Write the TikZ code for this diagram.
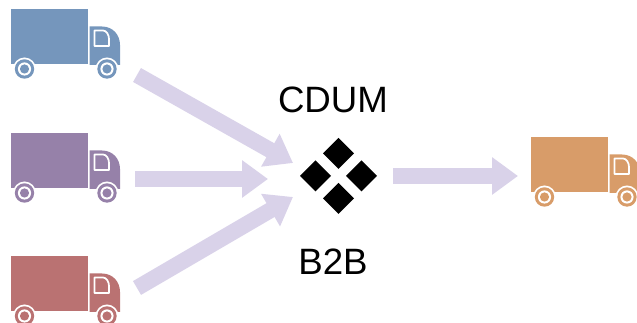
\documentclass[tikz,border=0pt]{standalone}
\usepackage{fontspec}
\setmainfont{Liberation Sans}
\usetikzlibrary{arrows.meta}
\definecolor{tblue}{HTML}{7596BC}
\definecolor{tpurple}{HTML}{9681A9}
\definecolor{tred}{HTML}{BA7272}
\definecolor{torange}{HTML}{D89C69}
\definecolor{flow}{HTML}{D9D2E9}
\tikzset{
  x=0.75pt,y=-0.75pt,
  flowarrow/.style={draw=flow,line width=12pt,-{Triangle[length=19.5pt,width=27pt]}},
  tile/.style={fill=black,draw=none},
  label/.style={font=\fontsize{27.5pt}{30pt}\selectfont,text=black,inner sep=0pt},
  pics/truck/.style={code={
    \fill[#1] (0,0) rectangle (77,55.5);
    \fill[#1] (78.7,17.5) -- (91,17.5) .. controls (102,17.5) and (109,26) .. (109,36) -- (109,56) -- (78.7,56) -- cycle;
    \draw[white,line width=1.3pt,line join=round] (83.5,21.5) -- (92,21.5) .. controls (95.5,21.5) and (98,26) .. (98,30) -- (98,37) -- (83.5,37) -- cycle;
    \foreach \cx in {13.5,96}{
      \fill[white] (\cx,60) circle[radius=11.5];
      \fill[#1] (\cx,60) circle[radius=9.7];
      \fill[white] (\cx,60) circle[radius=6.6];
      \fill[#1] (\cx,60) circle[radius=4.6];
    }
  }}
}
\begin{document}
\begin{tikzpicture}
\useasboundingbox (0,0) rectangle (637,323);
\clip (0,0) rectangle (637,323);
\pic at (11,9) {truck=tblue};
\pic at (11,133) {truck=tpurple};
\pic at (11,256) {truck=tred};
\pic at (531,137) {truck=torange};
\node[label] (cdum) at (333,100) {CDUM};
\node[label] (b2b) at (333,262) {B2B};
\fill[tile] (338.5,138) -- (354,153.5) -- (338.5,169) -- (323,153.5) -- cycle;
\fill[tile] (315.5,160.5) -- (331,176) -- (315.5,191.5) -- (300,176) -- cycle;
\fill[tile] (361.5,160.5) -- (377,176) -- (361.5,191.5) -- (346,176) -- cycle;
\fill[tile] (338.5,183) -- (354,198.5) -- (338.5,214) -- (323,198.5) -- cycle;
\coordinate (s1) at (137,75);
\coordinate (e1) at (293,163);
\coordinate (s2) at (135,179);
\coordinate (e2) at (268,179);
\coordinate (s3) at (137,288);
\coordinate (e3) at (293,197);
\coordinate (s4) at (393,176);
\coordinate (e4) at (518,176);
\draw[flowarrow] (s1) -- (e1);
\draw[flowarrow] (s2) -- (e2);
\draw[flowarrow] (s3) -- (e3);
\draw[flowarrow] (s4) -- (e4);
\end{tikzpicture}
\end{document}
